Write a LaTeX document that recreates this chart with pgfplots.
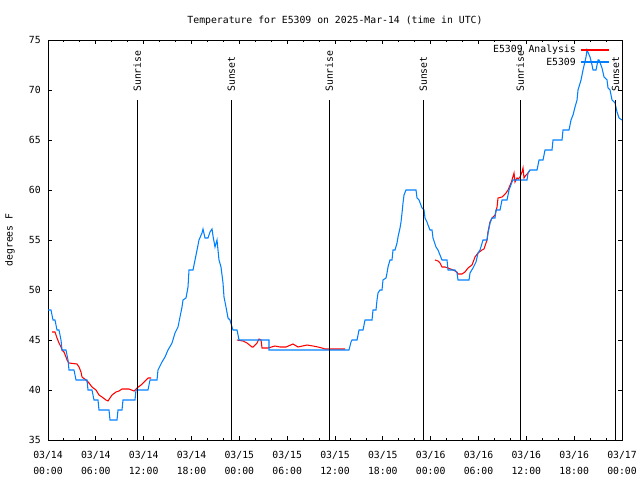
\documentclass[border=0pt]{standalone}
\usepackage{fontspec}
\setmainfont{DejaVu Sans Mono}
\usepackage{pgfplots}
\pgfplotsset{compat=1.18}
\definecolor{obsblue}{RGB}{0,128,255}
\begin{document}
\begin{tikzpicture}[font=\fontsize{7.35}{12}\selectfont]
\useasboundingbox (0,0) rectangle (480pt,360pt);
\begin{axis}[
  at={(36pt,30pt)}, anchor=south west,
  scale only axis, width=430.5pt, height=300pt,
  xmin=0, xmax=72, ymin=35, ymax=75,
  xtick={0,6,...,72}, minor x tick num=2,
  ytick={35,40,...,75},
  xticklabels={{03/14\\00:00},{03/14\\06:00},{03/14\\12:00},{03/14\\18:00},{03/15\\00:00},{03/15\\06:00},{03/15\\12:00},{03/15\\18:00},{03/16\\00:00},{03/16\\06:00},{03/16\\12:00},{03/16\\18:00},{03/17\\00:00}},
  xticklabel style={align=center, anchor=north, inner sep=0pt, yshift=-8pt},
  yticklabel style={anchor=east, inner sep=0pt, xshift=-5.25pt},
  /pgf/number format/assume math mode=true,
  tick align=inside, major tick length=3pt, minor tick length=1.5pt,
  axis line style={line width=0.75pt},
  every tick/.style={line width=0.75pt, black},
  title={Temperature for E5309 on 2025-Mar-14 (time in UTC)},
  title style={at={(axis description cs:0.5,1.0275)}, anchor=center, inner sep=0pt},
  ylabel={degrees F},
  ylabel style={at={(axis description cs:-0.0662,0.5)}, anchor=center, inner sep=0pt},
  unbounded coords=jump,
]
\addplot[red, line width=0.8pt] coordinates {
(0.502,45.8)(0.878,45.8)(1.129,45.2)(1.380,44.7)(1.631,44.3)(1.756,44.0)(2.007,43.8)(2.258,43.3)(2.383,43.0)(2.634,42.7)(3.638,42.6)(3.889,42.3)(4.140,41.8)(4.265,41.3)(4.767,41.0)(5.143,40.7)(5.519,40.3)(6.021,40.0)(6.397,39.5)(6.774,39.3)(7.276,39.0)(7.526,38.9)(7.777,39.2)(8.028,39.5)(8.530,39.8)(8.906,39.9)(9.283,40.1)(10.161,40.1)(10.788,39.9)(11.164,40.2)(11.666,40.5)(12.293,41.0)(12.544,41.2)(12.920,41.2)
(13.0,nan)
(23.708,45.0)(24.461,44.9)(24.963,44.7)(25.590,44.3)(25.715,44.3)(26.217,44.7)(26.468,45.1)(26.719,45.0)(26.844,44.2)(27.597,44.2)(28.475,44.4)(29.102,44.3)(29.855,44.3)(30.733,44.6)(31.360,44.3)(32.489,44.5)(33.242,44.4)(33.869,44.3)(34.371,44.2)(34.747,44.1)(37.256,44.1)
(38.0,nan)
(48.545,53.0)(48.921,52.9)(49.172,52.7)(49.423,52.3)(49.799,52.3)(50.176,52.2)(50.803,52.0)(51.305,51.8)(51.430,51.6)(51.932,51.6)(52.308,51.8)(52.685,52.2)(53.187,52.5)(53.563,53.3)(53.939,53.7)(54.441,54.0)(54.692,54.1)(55.068,55.0)(55.194,55.8)(55.444,56.8)(55.695,57.2)(56.072,57.5)(56.323,58.3)(56.448,59.2)(56.950,59.3)(57.451,59.7)(57.702,60.0)(58.079,60.7)(58.204,61.0)(58.455,61.7)(58.581,60.8)(58.832,61.2)(58.957,61.1)(59.208,61.3)(59.459,61.8)(59.585,62.2)(59.710,61.2)(59.961,61.5)(60.211,61.7)(60.462,62.0)
};
\addplot[obsblue, line width=0.8pt] coordinates {
(0,48)(0.376,48)(0.502,47.5)(0.627,47)(0.878,47)(1.004,46.5)(1.129,46)(1.380,46)(1.505,45.5)(1.631,45)(1.756,44)(2.258,44)(2.383,43.5)(2.509,43)(2.634,42)(3.261,42)(3.512,41)(4.892,41)(5.018,40)(5.519,40)(5.770,39)(6.272,39)(6.397,38)(7.652,38)(7.777,37)(8.655,37)(8.781,38)(9.283,38)(9.408,39)(10.913,39)(11.039,40)(12.544,40)(12.795,41)(13.673,41)(13.798,42)(14.300,42.8)(14.676,43.3)(15.053,44)(15.555,44.7)(15.931,45.7)(16.307,46.3)(16.558,47.3)(16.809,48.3)(16.934,49)(17.311,49.2)(17.562,50.3)(17.687,52)(18.189,52)(18.440,53)(18.691,54)(18.941,55)(19.318,55.7)(19.443,56.1)(19.694,55.2)(20.070,55.2)(20.321,55.8)(20.572,56.1)(20.698,55.4)(20.948,54.3)(21.199,55.0)(21.325,54)(21.450,53)(21.701,52.3)(21.952,50.7)(22.077,49.3)(22.328,48.3)(22.579,47.2)(22.830,47)(23.081,46.3)(23.206,46)(23.708,46)(23.959,45)(27.722,45)(27.722,44)(37.757,44)(38.008,44.8)(38.134,45)(38.761,45)(39.012,46)(39.514,46)(39.765,47)(40.643,47)(40.768,48)(41.144,48)(41.270,49)(41.395,49.7)(41.646,50)(41.897,50)(42.022,51)(42.399,51.2)(42.524,51.7)(42.650,52.3)(42.900,53)(43.151,53)(43.277,54)(43.528,54)(43.779,54.7)(43.904,55.3)(44.155,56.2)(44.280,56.8)(44.406,57.7)(44.531,58.7)(44.657,59.5)(44.908,60)(46.162,60)(46.287,59.2)(46.538,59)(46.915,58.2)(47.165,58)(47.291,57.2)(47.542,56.8)(47.667,56.5)(47.918,56)(48.169,56)(48.294,55.2)(48.670,54.3)(48.921,54)(49.172,53.5)(49.423,53)(50.050,53)(50.176,52)(51.054,52)(51.305,51.7)(51.430,51)(52.810,51)(52.936,51.7)(53.312,52.2)(53.688,52.8)(53.939,53.7)(54.190,54)(54.566,55)(55.068,55)(55.194,55.7)(55.444,56.7)(55.695,57.2)(56.072,57.2)(56.197,58)(56.699,58)(56.950,59)(57.577,59)(57.828,60)(58.204,60.8)(58.330,61)(60.086,61)(60.211,61.7)(60.462,62)(61.340,62)(61.591,63)(62.093,63)(62.344,64)(63.222,64)(63.347,65)(64.476,65)(64.602,66)(65.354,66)(65.605,67)(65.856,67.5)(66.107,68.3)(66.358,69)(66.483,70)(66.860,71)(67.110,72)(67.487,73.3)(67.612,74)(67.988,73.3)(68.239,72.5)(68.365,72)(68.741,72)(68.992,73)(69.117,73)(69.494,72.2)(69.745,71.3)(70.121,71)(70.247,70.2)(70.497,70)(70.748,69)(71.125,68.7)(71.376,67.8)(71.627,67.2)(72.0,67)
};
\addplot[black, line width=0.75pt, forget plot] coordinates {(11.2,35)(11.2,69)};
\addplot[black, line width=0.75pt, forget plot] coordinates {(23.0,35)(23.0,69)};
\addplot[black, line width=0.75pt, forget plot] coordinates {(35.28,35)(35.28,69)};
\addplot[black, line width=0.75pt, forget plot] coordinates {(47.07,35)(47.07,69)};
\addplot[black, line width=0.75pt, forget plot] coordinates {(59.23,35)(59.23,69)};
\addplot[black, line width=0.75pt, forget plot] coordinates {(71.18,35)(71.18,69)};
\node[rotate=90, anchor=west, inner sep=0pt] at (axis cs:11.2,69.8) {Sunrise};
\node[rotate=90, anchor=west, inner sep=0pt] at (axis cs:23.0,69.8) {Sunset};
\node[rotate=90, anchor=west, inner sep=0pt] at (axis cs:35.28,69.8) {Sunrise};
\node[rotate=90, anchor=west, inner sep=0pt] at (axis cs:47.07,69.8) {Sunset};
\node[rotate=90, anchor=west, inner sep=0pt] at (axis cs:59.23,69.8) {Sunrise};
\node[rotate=90, anchor=west, inner sep=0pt] at (axis cs:71.18,69.8) {Sunset};
% legend
\node[anchor=east, inner sep=0pt] at (axis description cs:0.9199,0.975) {E5309 Analysis};
\node[anchor=east, inner sep=0pt] at (axis description cs:0.9199,0.945) {E5309};
\draw[red, line width=0.8pt] (axis description cs:0.9286,0.975) -- (axis description cs:0.9774,0.975);
\draw[obsblue, line width=0.8pt] (axis description cs:0.9286,0.945) -- (axis description cs:0.9774,0.945);
\end{axis}
\end{tikzpicture}
\end{document}
